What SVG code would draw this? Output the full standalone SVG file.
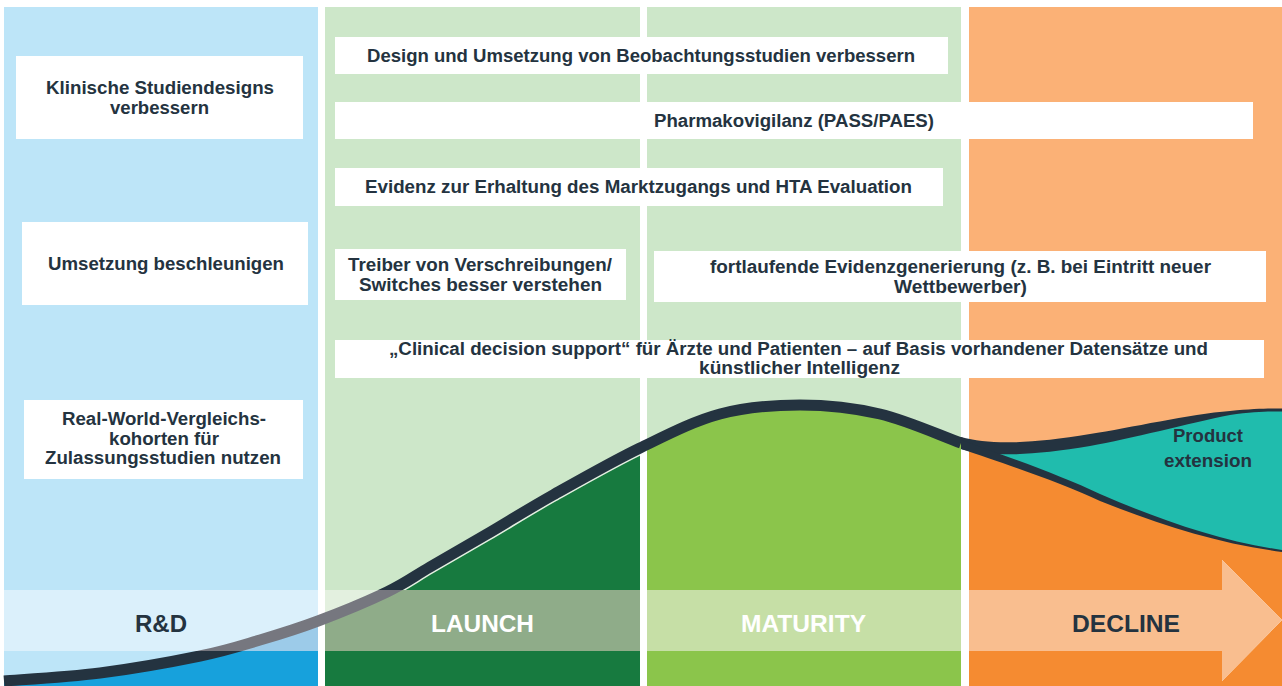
<svg xmlns="http://www.w3.org/2000/svg" width="1282" height="686" viewBox="0 0 1282 686">
  <defs>
    <style>
      .box { fill: #ffffff; }
      .t { font-family: "Liberation Sans", Arial, sans-serif; font-weight: bold; font-size: 18px; fill: #243340; text-anchor: middle; }
      .stage { font-family: "Liberation Sans", Arial, sans-serif; font-weight: bold; font-size: 24px; text-anchor: middle; }
      .navy { fill: #243340; }
      .white { fill: #ffffff; }
    </style>
    <!-- lifecycle curve (centre line) -->
    <path id="curve" d="M4,681 C20,679.7 67.3,677.2 100,673 C132.7,668.8 173.3,661.5 200,656 C226.7,650.5 240.3,645.8 260,640 C279.7,634.2 296.8,629 318,621 C339.2,613 368.3,601 387,592 C405.7,583 413.3,576.7 430,567 C446.7,557.3 466.5,546 487,534 C507.5,522 527.5,509.3 553,495 C578.5,480.7 612.2,461.5 640,448 C667.8,434.5 693.3,421.2 720,414 C746.7,406.8 773.3,405 800,405 C826.7,405 853.2,407.7 880,414 C906.8,420.3 941,435.8 961,443"/>
    <clipPath id="under">
      <path d="M4,681 C20,679.7 67.3,677.2 100,673 C132.7,668.8 173.3,661.5 200,656 C226.7,650.5 240.3,645.8 260,640 C279.7,634.2 296.8,629 318,621 C339.2,613 368.3,601 387,592 C405.7,583 413.3,576.7 430,567 C446.7,557.3 466.5,546 487,534 C507.5,522 527.5,509.3 553,495 C578.5,480.7 612.2,461.5 640,448 C667.8,434.5 693.3,421.2 720,414 C746.7,406.8 773.3,405 800,405 C826.7,405 853.2,407.7 880,414 C906.8,420.3 941,435.8 961,443 C1000,457 1060,478 1100,497 C1160,522 1220,542 1282,551 L1282,686 L4,686 Z"/>
    </clipPath>
    <clipPath id="launchCol">
      <rect x="400" y="7" width="240" height="679"/>
    </clipPath>
    <clipPath id="declineCol">
      <rect x="969" y="7" width="313" height="679"/>
    </clipPath>
    <clipPath id="band">
      <path d="M4,590 H1222 V560 L1282,620 L1222,681 V651 H4 Z"/>
    </clipPath>
  </defs>

  <rect width="1282" height="686" fill="#ffffff"/>

  <!-- phase columns -->
  <g id="columns">
    <rect x="4" y="7" width="314" height="679" fill="#bde5f8"/>
    <rect x="325" y="7" width="315" height="679" fill="#cde7c9"/>
    <rect x="647" y="7" width="314" height="679" fill="#cde7c9"/>
    <rect x="969" y="7" width="313" height="679" fill="#fbb176"/>
  </g>

  <!-- area under the curve -->
  <g id="area" clip-path="url(#under)">
    <rect x="4" y="7" width="314" height="679" fill="#17a1dc"/>
    <rect x="325" y="7" width="315" height="679" fill="#177a3f"/>
    <rect x="647" y="7" width="314" height="679" fill="#8bc54b"/>
    <rect x="969" y="7" width="313" height="679" fill="#f58b31"/>
  </g>
  <path id="extension-area" clip-path="url(#declineCol)" fill="#20bcad" d="M961,443 C990,451 1030,450 1090,440 C1130,433 1190,418 1230,413 C1255,410 1270,410 1282,410 L1282,551 C1220,542 1160,522 1100,497 C1060,478 1000,457 961,443 Z"/>

  <!-- curve and its two branches -->
  <g id="connectors">
    <g clip-path="url(#launchCol)">
      <use href="#curve" clip-path="url(#under)" fill="none" stroke="#e4f0e1" stroke-width="14"/>
    </g>
    <use href="#curve" fill="none" stroke="#243340" stroke-width="11"/>
    <path fill="#243340" d="M961,437 C990,445 1030,444 1090,434 C1130,428 1190,414 1230,411 C1255,408.5 1270,408.5 1282,408.5 L1282,411.5 C1270,411.5 1255,411.5 1230,415 C1190,423 1130,439 1090,446 C1030,456 990,457 961,449 Z"/>
    <path fill="#243340" d="M961,440 C1000,454 1060,475 1100,494 C1160,520 1220,541 1282,550 L1282,552 C1220,544 1160,525 1100,501 C1060,482 1000,462 961,449 Z"/>
  </g>

  <!-- translucent timeline arrow -->
  <g id="timeline" clip-path="url(#band)">
    <rect x="0" y="555" width="1282" height="131" fill="#ffffff"/>
    <rect x="4" y="555" width="314" height="131" fill="#dbf0fb"/>
    <rect x="325" y="555" width="315" height="131" fill="#e3f0df"/>
    <rect x="647" y="555" width="314" height="131" fill="#e3f0df"/>
    <rect x="969" y="555" width="313" height="131" fill="#fcd3b0"/>
    <g clip-path="url(#under)">
      <rect x="4" y="555" width="314" height="131" fill="#9ccbe9"/>
      <rect x="325" y="555" width="315" height="131" fill="#8fac89"/>
      <rect x="647" y="555" width="314" height="131" fill="#c6dfa6"/>
      <rect x="969" y="555" width="313" height="131" fill="#f9be8f"/>
    </g>
    <use href="#curve" fill="none" stroke="#76777f" stroke-width="11"/>
  </g>

  <g id="stage-rd"><text class="stage navy" x="161" y="632" textLength="52" lengthAdjust="spacingAndGlyphs">R&amp;D</text></g>
  <g id="stage-launch"><text class="stage white" x="482.5" y="632" textLength="103" lengthAdjust="spacingAndGlyphs">LAUNCH</text></g>
  <g id="stage-maturity"><text class="stage white" x="803.5" y="632" textLength="125" lengthAdjust="spacingAndGlyphs">MATURITY</text></g>
  <g id="stage-decline"><text class="stage navy" x="1126" y="632" textLength="108" lengthAdjust="spacingAndGlyphs">DECLINE</text></g>

  <g id="product-extension">
    <text class="t" x="1208" y="442" textLength="70" lengthAdjust="spacingAndGlyphs">Product</text>
    <text class="t" x="1208" y="467" textLength="88" lengthAdjust="spacingAndGlyphs">extension</text>
  </g>

  <!-- activity boxes -->
  <g id="box-studiendesigns">
    <rect class="box" x="16" y="56" width="287" height="83"/>
    <text class="t" x="160" y="94" textLength="228" lengthAdjust="spacingAndGlyphs">Klinische Studiendesigns</text>
    <text class="t" x="159.5" y="114" textLength="99" lengthAdjust="spacingAndGlyphs">verbessern</text>
  </g>
  <g id="box-umsetzung">
    <rect class="box" x="22" y="222" width="286" height="83"/>
    <text class="t" x="166" y="270" textLength="236" lengthAdjust="spacingAndGlyphs">Umsetzung beschleunigen</text>
  </g>
  <g id="box-vergleichskohorten">
    <rect class="box" x="24" y="400" width="279" height="79"/>
    <text class="t" x="164" y="425" textLength="204" lengthAdjust="spacingAndGlyphs">Real-World-Vergleichs-</text>
    <text class="t" x="164" y="445" textLength="110" lengthAdjust="spacingAndGlyphs">kohorten für</text>
    <text class="t" x="163" y="464" textLength="236" lengthAdjust="spacingAndGlyphs">Zulassungsstudien nutzen</text>
  </g>
  <g id="box-beobachtungsstudien">
    <rect class="box" x="335" y="37" width="613" height="37"/>
    <text class="t" x="641" y="62" textLength="548" lengthAdjust="spacingAndGlyphs">Design und Umsetzung von Beobachtungsstudien verbessern</text>
  </g>
  <g id="box-pharmakovigilanz">
    <rect class="box" x="335" y="102" width="918" height="37"/>
    <text class="t" x="794" y="127" textLength="280" lengthAdjust="spacingAndGlyphs">Pharmakovigilanz (PASS/PAES)</text>
  </g>
  <g id="box-marktzugang">
    <rect class="box" x="335" y="168" width="608" height="38"/>
    <text class="t" x="638.5" y="193" textLength="547" lengthAdjust="spacingAndGlyphs">Evidenz zur Erhaltung des Marktzugangs und HTA Evaluation</text>
  </g>
  <g id="box-verschreibungen">
    <rect class="box" x="335" y="249" width="291" height="51"/>
    <text class="t" x="480" y="271" textLength="264" lengthAdjust="spacingAndGlyphs">Treiber von Verschreibungen/</text>
    <text class="t" x="480.5" y="291" textLength="243" lengthAdjust="spacingAndGlyphs">Switches besser verstehen</text>
  </g>
  <g id="box-evidenzgenerierung">
    <rect class="box" x="654" y="251" width="612" height="51"/>
    <text class="t" x="960.5" y="273" textLength="501" lengthAdjust="spacingAndGlyphs">fortlaufende Evidenzgenerierung (z. B. bei Eintritt neuer</text>
    <text class="t" x="960.5" y="293" textLength="133" lengthAdjust="spacingAndGlyphs">Wettbewerber)</text>
  </g>
  <g id="box-decision-support">
    <rect class="box" x="335" y="340" width="929" height="38"/>
    <text class="t" x="798.5" y="355" textLength="819" lengthAdjust="spacingAndGlyphs">„Clinical decision support“ für Ärzte und Patienten – auf Basis vorhandener Datensätze und</text>
    <text class="t" x="799.5" y="374" textLength="201" lengthAdjust="spacingAndGlyphs">künstlicher Intelligenz</text>
  </g>
</svg>
